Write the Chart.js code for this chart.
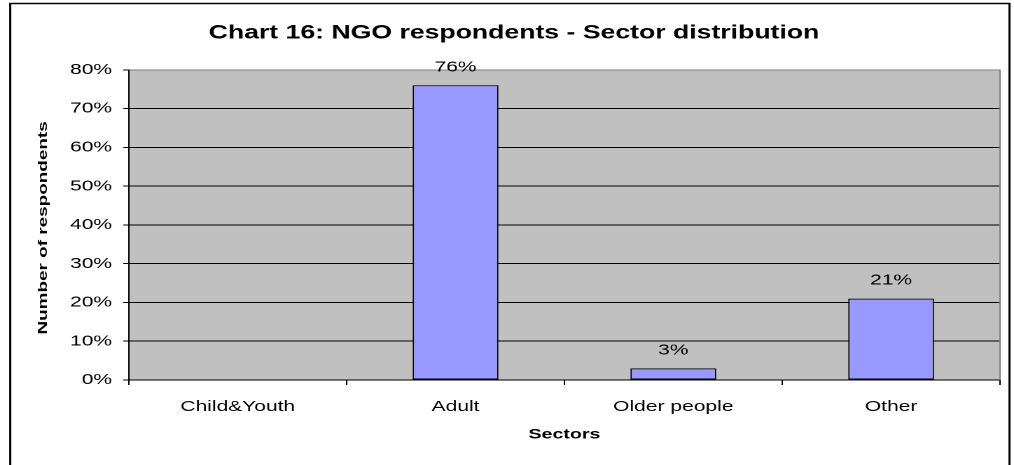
<!DOCTYPE html>
<html>
<head>
<meta charset="utf-8">
<script src="https://cdn.jsdelivr.net/npm/chart.js@4"></script>
<style>
  html, body { margin: 0; padding: 0; background: #fff; overflow: hidden; }
  /* the original picture is stretched sideways, so draw narrow and widen */
  #wrap { position: absolute; left: 0; top: 0; width: 724px; height: 465px;
          transform: scaleX(1.40055); transform-origin: 0 0; }
</style>
</head>
<body>
<div id="wrap"><canvas id="chart"></canvas></div>
<script>
const categories = ["Child&Youth", "Adult", "Older people", "Other"];
const shares = [0, 76, 3, 21];
const yMax = 80;
const yStep = 10;

const STRETCH = 1014 / 724;
const FONT = "Arial, 'Liberation Sans', sans-serif";

// white page, black outer frame and grey plot area
const frame = {
  id: "frame",
  beforeDraw(chart) {
    const { ctx, chartArea } = chart;
    ctx.save();
    ctx.fillStyle = "#fff";
    ctx.fillRect(0, 0, chart.width, chart.height);
    ctx.strokeStyle = "#000";
    ctx.lineWidth = 1.5;
    ctx.strokeRect(7.3, 3.5, 713.5, 500);
    ctx.fillStyle = "#C0C0C0";
    ctx.fillRect(chartArea.left, chartArea.top, chartArea.right - chartArea.left, chartArea.bottom - chartArea.top);
    ctx.restore();
  },
  beforeDatasetsDraw(chart) {
    const { ctx, chartArea } = chart;
    ctx.save();
    ctx.strokeStyle = "#808080";
    ctx.lineWidth = 1;
    ctx.beginPath();
    ctx.moveTo(chartArea.right, chartArea.top);
    ctx.lineTo(chartArea.right, chartArea.bottom);
    ctx.stroke();
    ctx.restore();
  },
  afterDraw(chart) {
    // y axis title, kept at the wide letter shape of the original
    const { ctx, chartArea } = chart;
    ctx.save();
    ctx.translate(30.7, (chartArea.top + chartArea.bottom) / 2 + 3);
    ctx.scale(1 / STRETCH, STRETCH);
    ctx.rotate(-Math.PI / 2);
    ctx.font = "bold 13.5px " + FONT;
    ctx.fillStyle = "#000";
    ctx.textAlign = "center";
    ctx.textBaseline = "middle";
    ctx.fillText("Number of respondents", 0, 0);
    ctx.restore();
  },
};

// value labels above the bars
const valueLabels = {
  id: "valueLabels",
  afterDatasetsDraw(chart) {
    const { ctx } = chart;
    const meta = chart.getDatasetMeta(0);
    ctx.save();
    ctx.font = "15px " + FONT;
    ctx.fillStyle = "#000";
    ctx.textAlign = "center";
    ctx.textBaseline = "middle";
    meta.data.forEach((bar, i) => {
      if (shares[i] > 0) ctx.fillText(shares[i] + "%", bar.x, bar.y - 18);
    });
    ctx.restore();
  },
};

new Chart(document.getElementById("chart"), {
  type: "bar",
  data: {
    labels: categories,
    datasets: [{
      data: shares,
      backgroundColor: "#9999FF",
      borderColor: "#000",
      borderWidth: 1,
      borderSkipped: false,
      barPercentage: 0.394,
      categoryPercentage: 1,
    }],
  },
  options: {
    responsive: true,
    maintainAspectRatio: false,
    animation: false,
    devicePixelRatio: 2,
    layout: { padding: { left: 20, right: 10, top: 0, bottom: 0 } },
    plugins: {
      legend: { display: false },
      tooltip: { enabled: false },
      title: {
        display: true,
        text: "Chart 16: NGO respondents - Sector distribution",
        color: "#000",
        font: { family: FONT, size: 19, weight: "bold" },
        padding: { top: 22, bottom: 25 },
      },
    },
    scales: {
      x: {
        afterFit(scale) { scale.height = 85; },
        border: { color: "#000", width: 1 },
        grid: { drawOnChartArea: false, tickLength: 5, tickColor: "#000", offset: true },
        ticks: { color: "#000", padding: 13, font: { family: FONT, size: 15 } },
        title: {
          display: true,
          text: "Sectors",
          color: "#000",
          font: { family: FONT, size: 14, weight: "bold" },
          padding: { top: 4, bottom: 22 },
        },
      },
      y: {
        min: 0,
        max: yMax,
        afterFit(scale) { scale.width = 72; },
        border: { color: "#000", width: 1 },
        grid: {
          color: (c) => (c.tick && c.tick.value === yMax ? "#808080" : "#000"),
          tickColor: "#000",
          tickLength: 4,
        },
        ticks: {
          stepSize: yStep,
          color: "#000",
          padding: 8,
          font: { family: FONT, size: 15 },
          callback: (v) => v + "%",
        },
      },
    },
  },
  plugins: [frame, valueLabels],
});
</script>
</body>
</html>
